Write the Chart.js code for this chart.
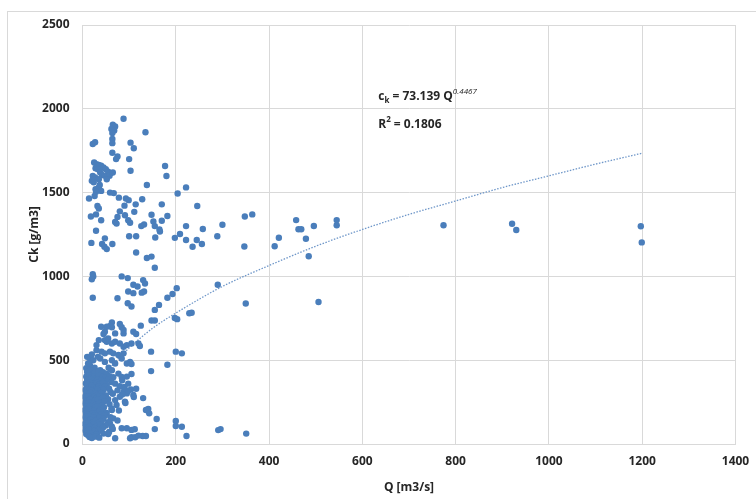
<!DOCTYPE html>
<html>
<head>
<meta charset="utf-8">
<script src="https://cdn.jsdelivr.net/npm/chart.js@4/dist/chart.umd.min.js"></script>
<style>
  html, body { margin: 0; padding: 0; background: #ffffff; }
  #wrap { position: relative; width: 756px; height: 499px; }
  #frame { position: absolute; left: 7px; top: 11px; width: 760px; height: 500px;
           border-left: 1px solid #d9d9d9; border-top: 1px solid #d9d9d9; box-sizing: border-box; }
  canvas { position: absolute; left: 0; top: 0; }
</style>
</head>
<body>
<div id="wrap">
  <div id="frame"></div>
  <canvas id="c" width="756" height="499"></canvas>
</div>
<script>
// ---- data: [Q (m3/s), Ck (g/m3)] ----
const upperPoints = [
  [88,1941],[65,1905],[70,1895],[62,1880],[68,1870],[64,1855],[64,1820],[64,1795],[135,1860],[22,1790],[27,1800],
  [103,1798],[110,1765],[64,1738],[75,1715],[72,1700],[100,1700],[103,1630],
  [25,1680],[30,1670],[35,1665],[40,1660],[28,1645],[33,1640],[45,1650],[50,1640],[55,1625],[38,1620],[60,1615],
  [42,1605],[48,1600],[58,1600],[22,1600],[27,1590],[35,1580],[65,1620],[52,1580],[20,1570],
  [177,1659],[180,1599],[22,1575],[24,1562],[37,1545],[35,1530],[28,1520],[40,1510],[138,1545],[14,1465],[26,1480],
  [29,1505],[59,1500],[67,1497],[78,1470],[93,1465],[99,1455],[128,1460],[204,1495],[222,1531],[32,1420],[35,1405],
  [90,1422],[114,1430],[170,1430],[246,1420],[18,1357],[29,1370],[40,1335],[80,1388],[75,1355],[91,1365],[98,1335],
  [102,1320],[111,1385],[70,1325],[73,1315],[148,1368],[126,1300],[132,1310],[152,1328],[155,1300],[165,1280],
  [166,1268],[170,1332],[182,1360],[29,1272],[19,1200],[48,1227],[42,1193],[47,1177],[52,1163],[64,1193],[100,1240],
  [115,1240],[156,1232],[198,1230],[209,1253],[222,1217],[236,1177],[245,1217],[256,1193],[222,1300],[258,1283],
  [289,1240],[300,1308],[347,1178],[348,1357],[364,1370],[115,1143],[138,1110],[148,1118],[155,1052],[22,1013],
  [23,1000],[20,983]
];
const farPoints = [
  [458,1336],[463,1281],[469,1281],[479,1225],[496,1301],[421,1231],[412,1180],[485,1120],[545,1336],[545,1305],
  [506,847],[774,1305],[921,1314],[930,1277],[1197,1299],[1199,1203]
];
const midPoints = [
  [84,1000],[97,990],[109,950],[118,940],[130,978],[134,958],[98,910],[109,900],[127,903],[132,910],[182,873],
  [193,895],[202,930],[290,950],[22,873],[75,870],[97,840],[105,820],[155,800],[164,830],[350,838],[229,780],
  [234,783],[198,752],[203,745],[148,737],[155,737],[125,706],[109,670],[115,656]
];
const clusterTop = [
  [63,725],[80,716],[63,697],[84,697],[59,704],[48,670],[45,656],[70,660],[88,660],[88,680],[52,610],[63,600],
  [70,610],[80,600],[88,580],[95,590],[105,600],[120,600],[123,585],[48,620],[55,630],[30,560],[41,551],[48,541],
  [59,551],[66,541],[77,531],[88,541],[16,510],[23,500],[38,510],[48,490],[63,500],[70,480],[84,510],[95,480],
  [102,490],[16,470],[26,455],[38,440],[56,455],[63,440],[77,420],[84,400],[147,551],[200,551],[213,541],[182,473],
  [147,435],[105,477],[105,418],[95,402],[8,453],[12,480],[10,520],[20,535],[30,590],[35,620],[40,700],[52,700],[33,520]
];
const lowRight = [
  [104,326],[109,292],[130,274],[136,203],[141,209],[143,183],[159,149],[200,137],[200,107],[213,103],[155,89],
  [223,48],[291,83],[296,89],[351,62],[105,84],[112,88],[105,40],[113,40],[129,48],[136,48],[95,94],[84,94],
  [102,34],[120,50],[70,34],[55,60],[63,103],[88,312],[95,302],[91,252],[80,282],[73,233],[63,203],[66,153],
  [59,123],[98,360],[85,380],[115,330]
];
const clusterDense = [
  [10,430],[18,440],[26,425],[34,436],[44,428],[52,420],[14,418],
  [8,402],[12,395],[15,410],[20,398],[25,405],[30,392],[35,408],[42,400],[50,395],[58,404],[66,398],
  [10,382],[14,376],[18,385],[24,378],[28,372],[33,384],[40,380],[47,375],[55,386],[62,370],
  [7,362],[11,355],[16,366],[21,358],[26,350],[31,364],[37,357],[44,362],[52,352],[70,360],[80,345],
  [9,342],[13,335],[19,346],[23,338],[29,330],[35,344],[41,336],[48,342],[57,330],[90,340],
  [6,322],[10,315],[15,326],[20,318],[27,312],[32,324],[38,316],[45,322],[60,310],[75,320],[98,318],
  [8,302],[12,296],[17,305],[22,292],[28,300],[34,295],[40,304],[50,290],[65,300],[85,295],
  [5,282],[9,276],[14,285],[19,272],[25,280],[30,270],[36,284],[44,276],[55,268],[110,280],
  [7,262],[11,255],[16,265],[21,250],[27,258],[33,264],[39,248],[48,256],[70,262],
  [6,242],[10,236],[13,245],[18,230],[24,240],[29,234],[35,244],[42,228],[58,238],[92,245],
  [8,222],[12,214],[17,225],[22,210],[27,218],[32,226],[38,206],[46,220],[62,212],
  [5,202],[9,195],[14,206],[19,190],[25,198],[31,186],[37,200],[44,192],[52,185],[78,200],
  [7,182],[11,176],[16,168],[21,180],[26,172],[33,164],[40,178],[48,170],
  [6,160],[10,152],[14,164],[19,148],[24,158],[30,144],[36,155],[45,150],[60,160],
  [8,140],[12,133],[17,145],[22,128],[28,138],[34,125],[41,136],[55,130],[75,140],
  [5,120],[9,112],[13,124],[18,108],[24,118],[30,104],[38,115],[50,110],
  [7,100],[11,92],[15,104],[20,88],[26,96],[33,84],[44,98],[65,90],
  [6,80],[10,74],[14,86],[19,70],[25,78],[32,66],[40,80],[57,72],
  [8,60],[12,52],[17,64],[23,48],[30,56],[45,62],
  [15,42],[20,36],[28,44],[36,38]
];
// dotted power trendline
const trendQ  = [5, 10, 20, 40, 70, 100, 150, 200, 300, 400, 500, 600, 700, 800, 900, 1000, 1100, 1200];
const trendCk = [150, 205, 280, 380, 490, 573, 690, 781, 940, 1065, 1180, 1280, 1370, 1450, 1530, 1600, 1670, 1735];
const equationText = { lead: 'c', sub: 'k', main: ' = 73.139 Q', sup: '0.4467' };
const rSquaredText = { lead: 'R', sup: '2', main: ' = 0.1806' };
const xAxisTitle = 'Q [m3/s]';
const yAxisTitle = 'Ck [g/m3]';

const allPoints = [].concat(upperPoints, farPoints, midPoints, clusterTop, lowRight, clusterDense)
  .map(p => ({ x: p[0], y: p[1] }));
const trendPoints = trendQ.map((q, i) => ({ x: q, y: trendCk[i] }));

const FONT = '"Open Sans", "Noto Sans", sans-serif';
const TXT = '#262626';

const annotationPlugin = {
  id: 'equationText',
  afterDatasetsDraw(chart) {
    const ctx = chart.ctx;
    const xs = chart.scales.x, ys = chart.scales.y;
    const x0 = xs.getPixelForValue(634);
    const yEq = ys.getPixelForValue(2082);
    const yR = ys.getPixelForValue(1915);
    ctx.save();
    ctx.fillStyle = TXT;
    ctx.textBaseline = 'alphabetic';
    ctx.textAlign = 'left';
    const big = 'bold 12px ' + FONT, small = 'bold 8px ' + FONT;
    let x = x0, base = yEq + 5;
    ctx.font = big; ctx.fillText(equationText.lead, x, base); x += ctx.measureText(equationText.lead).width;
    ctx.font = small; ctx.fillText(equationText.sub, x, base + 3); x += ctx.measureText(equationText.sub).width;
    ctx.font = big; ctx.fillText(equationText.main, x, base); x += ctx.measureText(equationText.main).width;
    ctx.font = 'italic 8px ' + FONT; ctx.fillText(equationText.sup, x, base - 6);
    x = x0; base = yR + 5;
    ctx.font = big; ctx.fillText(rSquaredText.lead, x, base); x += ctx.measureText(rSquaredText.lead).width;
    ctx.font = small; ctx.fillText(rSquaredText.sup, x, base - 6); x += ctx.measureText(rSquaredText.sup).width;
    ctx.font = big; ctx.fillText(rSquaredText.main, x, base);
    ctx.restore();
  }
};

new Chart(document.getElementById('c'), {
  type: 'scatter',
  data: {
    datasets: [
      {
        label: 'Ck',
        data: allPoints,
        backgroundColor: '#4a7ebb',
        borderColor: '#4a7ebb',
        borderWidth: 0,
        pointRadius: 3.2,
        pointHoverRadius: 3.2,
        order: 1
      },
      {
        label: 'trend',
        type: 'line',
        data: trendPoints,
        borderColor: '#6f97c9',
        borderWidth: 1.3,
        borderDash: [1.5, 1.5],
        pointRadius: 0,
        fill: false,
        cubicInterpolationMode: 'monotone',
        order: 2
      }
    ]
  },
  options: {
    responsive: false,
    animation: false,
    devicePixelRatio: 1,
    layout: { padding: { left: 12, right: 20.5, top: 25, bottom: 4 } },
    plugins: { legend: { display: false }, tooltip: { enabled: false } },
    scales: {
      x: {
        type: 'linear',
        min: 0, max: 1400,
        ticks: { stepSize: 200, padding: 10, color: TXT, font: { family: FONT, size: 12, weight: 'bold' }, maxRotation: 0,
                 callback: v => String(v) },
        grid: { color: '#d9d9d9', lineWidth: 1, drawTicks: false },
        border: { display: true, color: '#d9d9d9' },
        title: { display: true, text: xAxisTitle, color: TXT, font: { family: FONT, size: 12, weight: 'bold' }, padding: { top: 4, bottom: 0 } },
        afterFit(scale) { scale.height = 51; scale.paddingRight = 0; scale.paddingLeft = 0; }
      },
      y: {
        type: 'linear',
        min: 0, max: 2500,
        ticks: { stepSize: 500, padding: 13, color: TXT, font: { family: FONT, size: 12, weight: 'bold' },
                 callback: v => String(v) },
        grid: { color: '#d9d9d9', lineWidth: 1, drawTicks: false },
        border: { display: true, color: '#d9d9d9' },
        title: { display: true, text: yAxisTitle, color: TXT, font: { family: FONT, size: 12, weight: 'bold' }, padding: { top: 15, bottom: 4 } },
        afterFit(scale) { scale.width = 70.5; scale.paddingTop = 0; scale.paddingBottom = 0; }
      }
    }
  },
  plugins: [annotationPlugin]
});
</script>
</body>
</html>
